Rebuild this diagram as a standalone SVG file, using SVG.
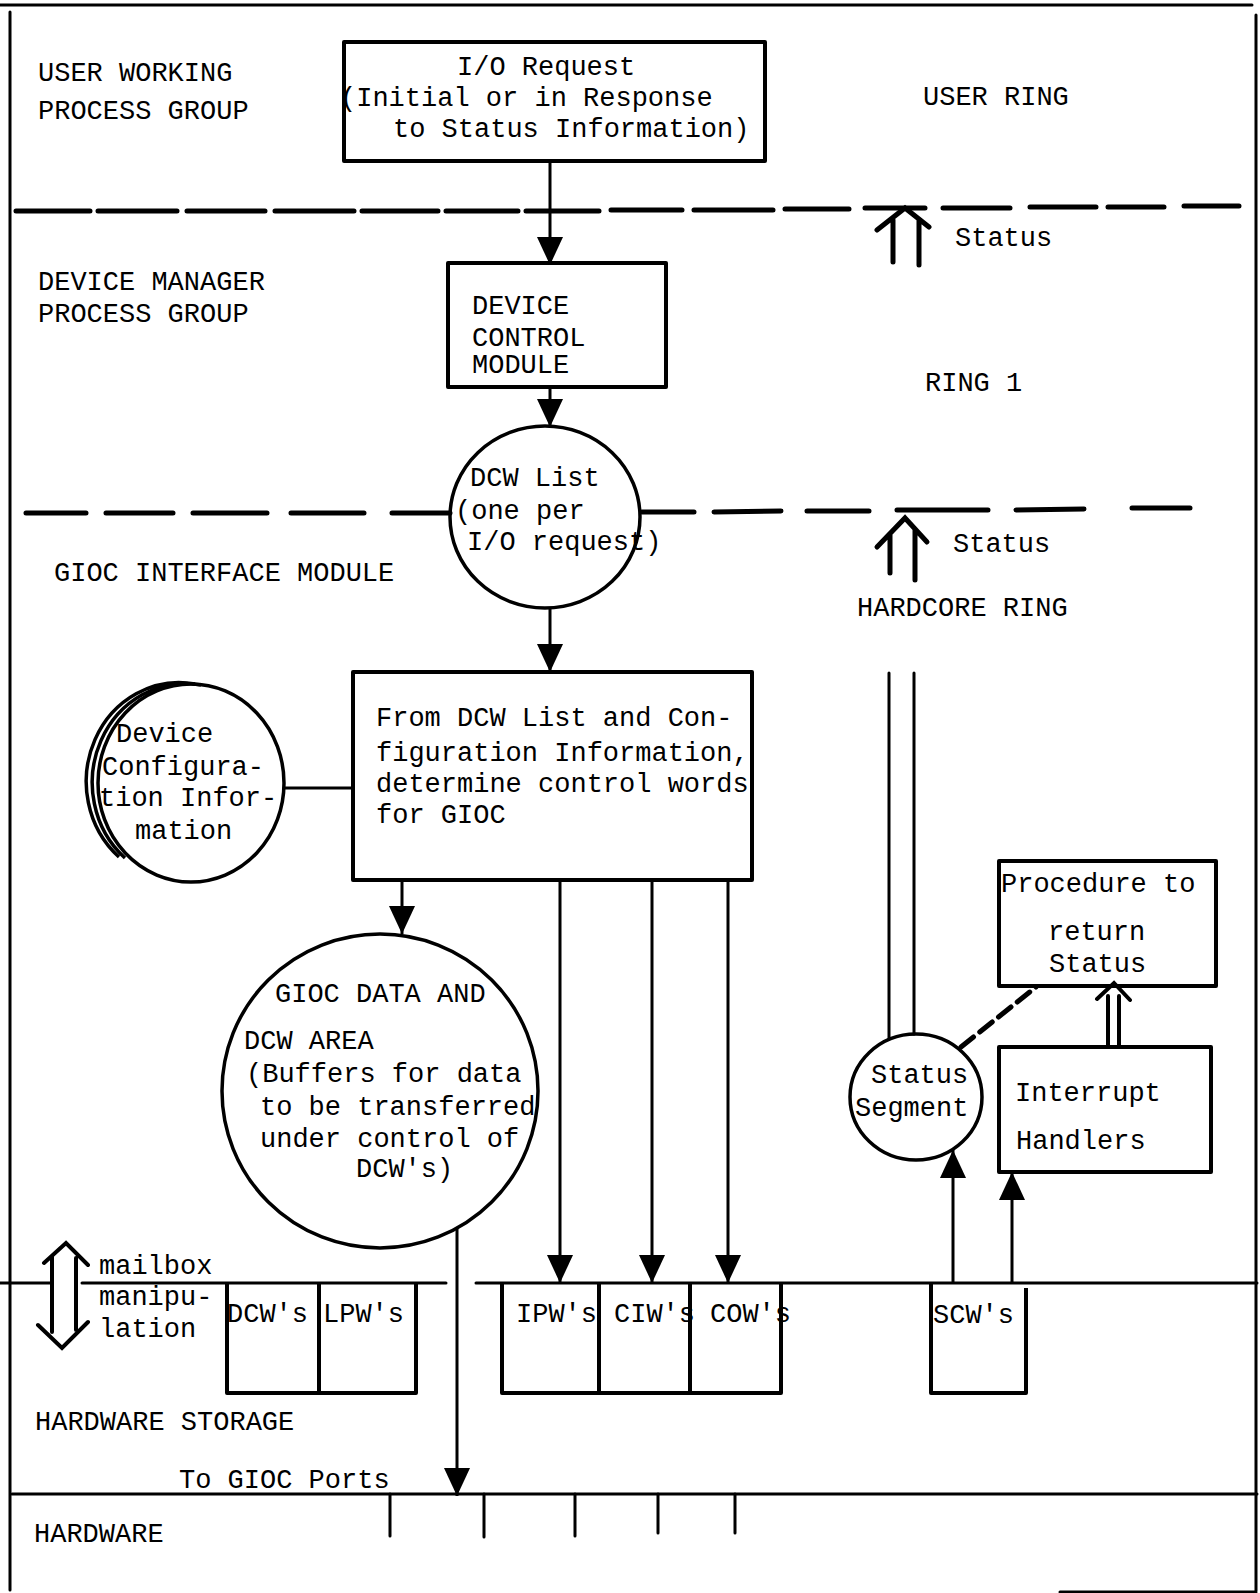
<svg xmlns="http://www.w3.org/2000/svg" width="1260" height="1593" viewBox="0 0 1260 1593">
<style>
text{font-family:"Liberation Mono","DejaVu Sans Mono",monospace;font-size:27px;fill:#000}
.b{fill:none;stroke:#000;stroke-width:4;stroke-linejoin:round}
.c{fill:none;stroke:#000;stroke-width:3.5}
.l{fill:none;stroke:#000;stroke-width:3;stroke-linecap:round}
.d{fill:none;stroke:#000;stroke-width:5;stroke-linecap:round}
.a{fill:none;stroke:#000;stroke-width:3;marker-end:url(#ah)}
</style>
<defs>
<marker id="ah" viewBox="0 0 28 26" refX="28" refY="13" markerWidth="28" markerHeight="26" markerUnits="userSpaceOnUse" orient="auto"><path d="M0,0 L28,13 L0,26 z" fill="#000"/></marker>
</defs>
<rect width="1260" height="1593" fill="#fff"/>

<g id="frame">
<path class="l" d="M0,5 L1252,5 M10,12 L10,1590 M1256,15 L1256,1591 M1060,1592 L1256,1592"/>
<path class="d" d="M16,211 L90,211 M98,211 L177,211 M187,211 L265,211 M275,211 L354,211 M362,211 L438,211 M446,211 L518,211 M526,211 L599,211 M611,210 L682,210 M694,210 L773,210 M785,209 L849,209 M865,208 L925,208 M943,208 L1010,208 M1030,207 L1096,207 M1108,207 L1164,207 M1184,206 L1239,206"/>
<path class="d" d="M26,513 L86,513 M106,513 L173,513 M193,513 L267,513 M291,513 L364,513 M392,513 L450,513 M642,512 L694,512 M714,512 L781,511 M807,511 L869,511 M897,510 L988,510 M1016,510 L1084,509 M1132,508 L1190,508"/>
<path class="l" d="M0,1283 L50,1283 M82,1283 L446,1283 M476,1283 L1257,1283"/>
<path class="l" d="M12,1494 L1257,1494"/>
<path class="l" d="M390,1494 L390,1536 M484,1494 L484,1537 M575,1494 L575,1536 M658,1494 L658,1533 M735,1494 L735,1533"/>
</g>

<g id="zone-labels">
<text x="38" y="81">USER WORKING</text>
<text x="38" y="119">PROCESS GROUP</text>
<text x="38" y="290">DEVICE MANAGER</text>
<text x="38" y="322">PROCESS GROUP</text>
<text x="54" y="581">GIOC INTERFACE MODULE</text>
<text x="923" y="105">USER RING</text>
<text x="925" y="391">RING 1</text>
<text x="857" y="616">HARDCORE RING</text>
<text x="35" y="1430">HARDWARE STORAGE</text>
<text x="179" y="1488">To GIOC Ports</text>
<text x="34" y="1542">HARDWARE</text>
</g>

<g id="io-request">
<rect class="b" x="344" y="42" width="421" height="119"/>
<text x="457" y="75">I/O Request</text>
<text x="340" y="106">(Initial or in Response</text>
<text x="393" y="137">to Status Information)</text>
</g>

<g id="device-control-module">
<rect class="b" x="448" y="263" width="218" height="124"/>
<text x="472" y="314">DEVICE</text>
<text x="472" y="346">CONTROL</text>
<text x="472" y="373">MODULE</text>
</g>

<g id="dcw-list">
<ellipse class="c" cx="545" cy="517" rx="95" ry="91"/>
<text x="470" y="486">DCW List</text>
<text x="455" y="519">(one per</text>
<text x="467" y="550">I/O request)</text>
</g>

<g id="gioc-module">
<rect class="b" x="353" y="672" width="399" height="208"/>
<text x="376" y="726">From DCW List and Con-</text>
<text x="376" y="761">figuration Information,</text>
<text x="376" y="792">determine control words</text>
<text x="376" y="823">for GIOC</text>
</g>

<g id="device-config">
<ellipse class="c" cx="191" cy="783" rx="93" ry="99"/>
<path class="c" d="M201,685 A93,99 0 0 0 125,858"/>
<path class="c" d="M195,684 A93,99 0 0 0 119,857"/>
<text x="116" y="742">Device</text>
<text x="102" y="775">Configura-</text>
<text x="99" y="806">tion Infor-</text>
<text x="135" y="839">mation</text>
</g>

<g id="gioc-data-area">
<ellipse class="c" cx="380" cy="1091" rx="158" ry="157"/>
<text x="275" y="1002">GIOC DATA AND</text>
<text x="244" y="1049">DCW AREA</text>
<text x="246" y="1082">(Buffers for data</text>
<text x="260" y="1115">to be transferred</text>
<text x="260" y="1147">under control of</text>
<text x="356" y="1177">DCW's)</text>
</g>

<g id="status-segment">
<ellipse class="c" cx="916" cy="1097" rx="66" ry="63"/>
<text x="871" y="1083">Status</text>
<text x="855" y="1116">Segment</text>
</g>

<g id="procedure-return-status">
<rect class="b" x="999" y="861" width="217" height="125"/>
<text x="1001" y="892">Procedure to</text>
<text x="1048" y="940">return</text>
<text x="1049" y="972">Status</text>
</g>

<g id="interrupt-handlers">
<rect class="b" x="999" y="1047" width="212" height="125"/>
<text x="1015" y="1101">Interrupt</text>
<text x="1016" y="1149">Handlers</text>
</g>

<g id="mailbox">
<path class="d" style="stroke-width:4" d="M44,1263 L66,1243 L88,1265 M52,1256 L52,1332 M76,1258 L76,1330 M38,1325 L62,1348 L88,1322"/>
<text x="99" y="1274">mailbox</text>
<text x="99" y="1305">manipu-</text>
<text x="99" y="1337">lation</text>
</g>

<g id="dcw-lpw">
<path class="b" d="M227,1283 L227,1393 L416,1393 L416,1283 M319,1283 L319,1393"/>
<text x="227" y="1322">DCW's</text>
<text x="323" y="1322">LPW's</text>
</g>

<g id="ipw-ciw-cow">
<path class="b" d="M502,1283 L502,1393 L781,1393 L781,1283 M599,1283 L599,1393 M690,1283 L690,1393"/>
<text x="516" y="1322">IPW's</text>
<text x="614" y="1322">CIW's</text>
<text x="710" y="1322">COW's</text>
</g>

<g id="scw">
<path class="b" d="M931,1283 L931,1393 L1026,1393 L1026,1288"/>
<text x="933" y="1323">SCW's</text>
</g>

<g id="status-arrows">
<path class="d" d="M877,230 L905,208 L929,227 M893,220 L893,262 M919,219 L919,265"/>
<text x="955" y="246">Status</text>
<path class="d" d="M877,547 L905,518 L927,542 M890,534 L890,573 M915,529 L915,580"/>
<text x="953" y="552">Status</text>
</g>

<g id="connectors">
<line class="a" x1="550" y1="161" x2="550" y2="265"/>
<line class="a" x1="550" y1="387" x2="550" y2="427"/>
<line class="a" x1="550" y1="608" x2="550" y2="672"/>
<line class="l" x1="284" y1="788" x2="353" y2="788"/>
<line class="a" x1="402" y1="880" x2="402" y2="934"/>
<line class="a" x1="560" y1="880" x2="560" y2="1283"/>
<line class="a" x1="652" y1="880" x2="652" y2="1283"/>
<line class="a" x1="728" y1="880" x2="728" y2="1283"/>
<line class="a" x1="457" y1="1228" x2="457" y2="1496"/>
<path class="l" d="M889,673 L889,1039 M914,673 L914,1034"/>
<line class="a" x1="953" y1="1283" x2="953" y2="1150"/>
<line class="a" x1="1012" y1="1283" x2="1012" y2="1172"/>
<line class="d" style="stroke-dasharray:16 8" x1="961" y1="1047" x2="1036" y2="987"/>
<path class="d" style="stroke-width:4" d="M1108,1047 L1108,996 M1119,1047 L1119,996 M1097,999 L1114,983 L1130,1000"/>
</g>
</svg>
